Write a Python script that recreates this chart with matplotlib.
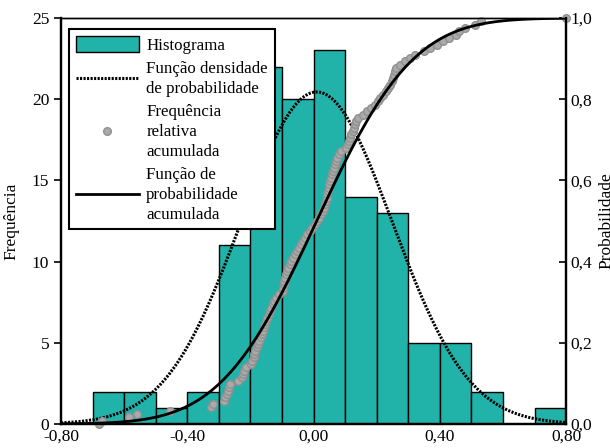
import math

import numpy as np
import matplotlib
matplotlib.use("Agg")
import matplotlib.pyplot as plt
from matplotlib.ticker import FuncFormatter

plt.rcParams["font.family"] = ["Liberation Serif", "DejaVu Serif"]

# histogram bins (width 0.1) and counts
bin_edges = [-0.7, -0.6, -0.5, -0.4, -0.3, -0.2, -0.1, 0.0, 0.1, 0.2, 0.3, 0.4, 0.5, 0.6, 0.7, 0.8]
counts = [2, 2, 1, 2, 11, 22, 20, 23, 14, 13, 5, 5, 2, 0, 1]

# sorted sample values
sample = [
    -0.68, -0.67,
    -0.585, -0.56,
    -0.455,
    -0.325, -0.32,
    -0.285, -0.28, -0.275, -0.27, -0.268, -0.265, -0.24, -0.228, -0.224, -0.22, -0.215,
    -0.198, -0.195, -0.19, -0.188, -0.185, -0.18, -0.176, -0.172, -0.168, -0.164, -0.16,
    -0.157, -0.154, -0.15, -0.146, -0.142, -0.138, -0.134, -0.13, -0.125, -0.118, -0.11,
    -0.098, -0.096, -0.094, -0.092, -0.09, -0.087, -0.084, -0.08, -0.075, -0.07,
    -0.064, -0.058, -0.052, -0.046, -0.04, -0.034, -0.028, -0.02, -0.012, -0.005,
    0.005, 0.01, 0.018, 0.025, 0.03, 0.034, 0.037, 0.04, 0.042, 0.044, 0.046, 0.048,
    0.05, 0.052, 0.055, 0.058, 0.061, 0.064, 0.067, 0.071, 0.075, 0.08, 0.088,
    0.104, 0.108, 0.112, 0.116, 0.12, 0.125, 0.128, 0.132, 0.136, 0.14, 0.158, 0.17, 0.182, 0.195,
    0.205, 0.212, 0.22, 0.228, 0.236, 0.242, 0.248, 0.252, 0.255, 0.258, 0.26, 0.275, 0.29,
    0.305, 0.32, 0.35, 0.37, 0.39,
    0.41, 0.43, 0.45, 0.46, 0.48,
    0.51, 0.53,
    0.80,
]

# fitted normal distribution
MU = 0.01
SIGMA = 0.24
BIN_W = 0.1

n = len(sample)
total = sum(counts)

fig = plt.figure(figsize=(6.1, 4.48), dpi=100)
ax = fig.add_axes([0.1, 0.0536, 0.828, 0.9062])

bars = ax.bar(bin_edges[:-1], counts, width=BIN_W, align="edge",
              color="#21b3aa", edgecolor="black", linewidth=1.0, zorder=1)

xs = np.linspace(-0.8, 0.8, 500)
pdf = np.exp(-0.5 * ((xs - MU) / SIGMA) ** 2) / (SIGMA * math.sqrt(2 * math.pi))
pdf_line, = ax.plot(xs, total * BIN_W * pdf, color="black", lw=2.2,
                    linestyle=(0, (0.7, 0.45)), zorder=3)

ax.set_xlim(-0.8, 0.8)
ax.set_ylim(0, 25)
ax.set_xticks([-0.8, -0.4, 0.0, 0.4, 0.8])
ax.set_yticks([0, 5, 10, 15, 20, 25])
ax.xaxis.set_major_formatter(FuncFormatter(lambda v, _: f"{v:.2f}".replace(".", ",")))
ax.tick_params(axis="y", labelsize=12.5, direction="out", length=5, width=1.2)
ax.tick_params(axis="x", labelsize=12.5, direction="in", length=0, pad=3)
ax.set_ylabel("Frequência", fontsize=12.5)
ax.yaxis.set_label_coords(-0.083, 0.5)

ax2 = ax.twinx()
ax2.set_ylim(0, 1)
ax2.set_yticks([0, 0.2, 0.4, 0.6, 0.8, 1.0])
ax2.yaxis.set_major_formatter(FuncFormatter(lambda v, _: f"{v:.1f}".replace(".", ",")))
ax2.tick_params(axis="y", labelsize=12.5, direction="in", length=5, width=1.2, pad=3)
ax2.set_ylabel("Probabilidade", fontsize=12.5)
ax2.yaxis.set_label_coords(1.064, 0.5)

ecdf = np.linspace(0, 1, n)
pts, = ax2.plot(sample, ecdf, "o", ms=5.5, mfc="#aaaaaa", mec="#909090", mew=1.0,
                clip_on=False, zorder=2)
cdf = np.array([0.5 * (1 + math.erf((v - MU) / (SIGMA * math.sqrt(2)))) for v in xs])
cdf_line, = ax2.plot(xs, cdf, color="black", lw=2.0, zorder=3)

for a in (ax, ax2):
    for side in ("left", "right", "bottom"):
        a.spines[side].set_linewidth(1.6)
    a.spines["top"].set_linewidth(1.0)

leg = ax2.legend([bars, pdf_line, pts, cdf_line],
                 ["Histograma", "Função densidade\nde probabilidade",
                  "Frequência\nrelativa\nacumulada", "Função de\nprobabilidade\nacumulada"],
                 loc="upper left", bbox_to_anchor=(0.016, 0.973), borderaxespad=0,
                 fancybox=False, framealpha=1, edgecolor="black", fontsize=12.2,
                 handlelength=3.7, handleheight=1.1, borderpad=0.4, labelspacing=0.45,
                 handletextpad=0.45)
for t in leg.get_texts():
    t.set_linespacing(1.3)
leg.get_frame().set_linewidth(1.5)
leg.set_zorder(10)

fig.savefig("out.png", dpi=100)
